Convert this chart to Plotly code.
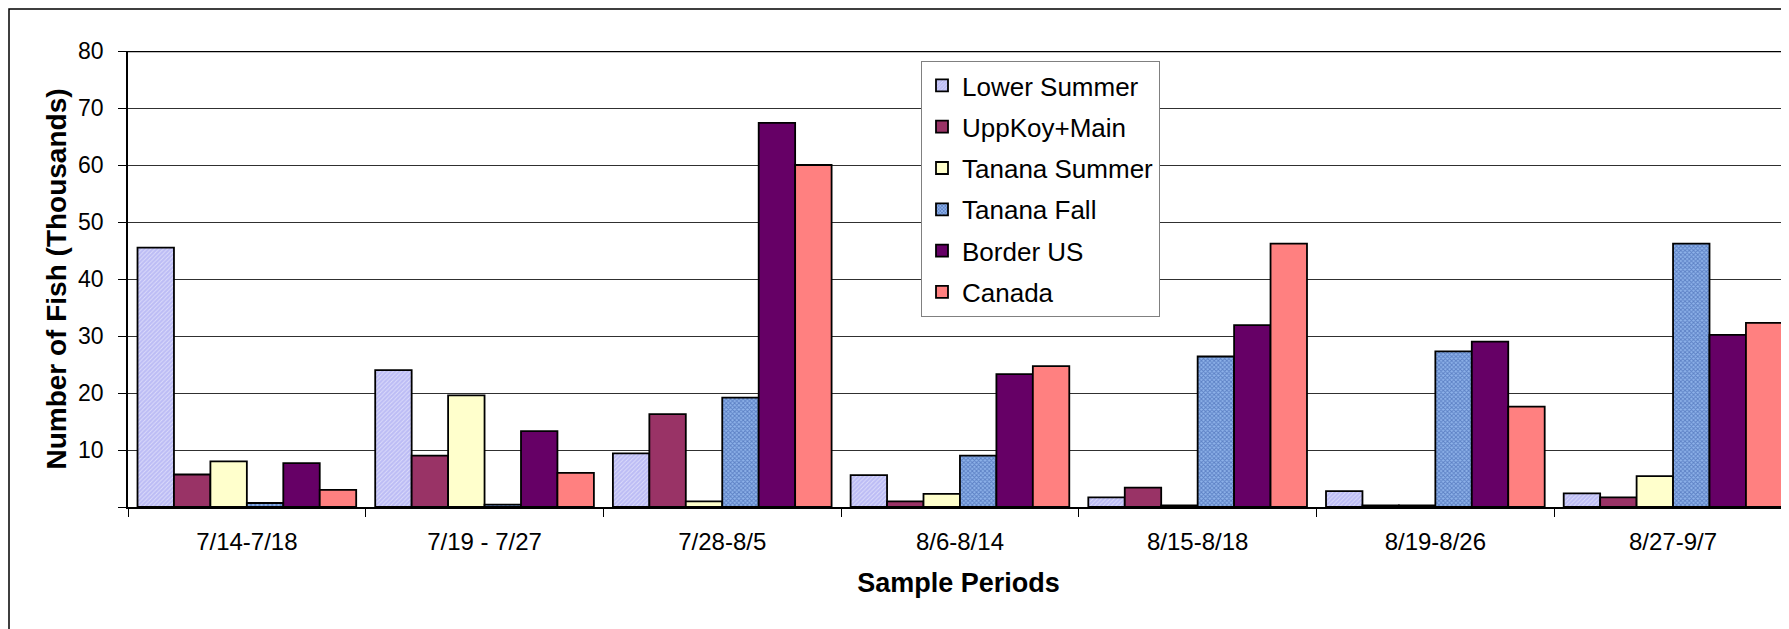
import plotly.graph_objects as go

periods = ["7/14-7/18", "7/19 - 7/27", "7/28-8/5", "8/6-8/14", "8/15-8/18", "8/19-8/26", "8/27-9/7"]
lower_summer = [45.5, 24.0, 9.4, 5.6, 1.7, 2.8, 2.4]
uppkoy_main = [5.7, 9.0, 16.3, 1.0, 3.4, 0.3, 1.7]
tanana_summer = [8.0, 19.6, 1.0, 2.3, 0.3, 0.3, 5.4]
tanana_fall = [0.7, 0.4, 19.2, 9.0, 26.4, 27.3, 46.2]
border_us = [7.7, 13.3, 67.4, 23.3, 31.9, 29.0, 30.2]
canada = [3.0, 6.0, 60.0, 24.7, 46.2, 17.6, 32.3]

y_ticks = [0, 10, 20, 30, 40, 50, 60, 70, 80]
y_tick_text = ["", "10", "20", "30", "40", "50", "60", "70", "80"]

FONT = "Arial, Liberation Sans, sans-serif"
OFF = 8  # default page body margin
W, H = 1789 - OFF, 629 - OFF
ML, MR, MT = 128 - OFF, 0, 51 - OFF
MB = H - (507 - OFF)

series = [
    ("Lower Summer", lower_summer, "#BCBCF5", dict(shape="/", fgcolor="#FFFFFF", size=3, solidity=0.3)),
    ("UppKoy+Main", uppkoy_main, "#993366", None),
    ("Tanana Summer", tanana_summer, "#FFFFCC", None),
    ("Tanana Fall", tanana_fall, "#8FB3EA", dict(shape="x", fgcolor="#2A4FA0", size=3, solidity=0.55)),
    ("Border US", border_us, "#660066", None),
    ("Canada", canada, "#FF8080", None),
]

fig = go.Figure()
for i, (name, vals, col, pat) in enumerate(series):
    marker = dict(color=col, line=dict(color="#000000", width=1.8))
    if pat:
        marker["pattern"] = pat
    fig.add_trace(go.Bar(name=name, x=periods, y=vals, marker=marker, legendgroup=f"g{i}"))

plot_w = W - ML - MR
plot_h = H - MT - MB
cat_w = 237.7
x_max = -0.5 + plot_w / cat_w

fig.update_layout(
    width=W, height=H,
    margin=dict(l=ML, r=MR, t=MT, b=MB, pad=0),
    paper_bgcolor="white", plot_bgcolor="white",
    barmode="group", bargap=0.08, bargroupgap=0,
    font=dict(family=FONT, color="#000000"),
    showlegend=True,
    legend=dict(
        x=(921 - OFF - ML) / plot_w, y=1 - (61 - OFF - MT) / plot_h,
        xanchor="left", yanchor="top",
        bgcolor="white", bordercolor="#808080", borderwidth=1,
        font=dict(family=FONT, size=26, color="#000000"),
        tracegroupgap=4.5, traceorder="grouped",
    ),
    xaxis=dict(
        type="category", range=[-0.5, x_max],
        showline=True, linecolor="#000000", linewidth=1.5, mirror=False,
        ticks="outside", tickson="boundaries", ticklen=8, tickcolor="#000000", tickwidth=1,
        showgrid=False,
        tickfont=dict(family=FONT, size=24),
        ticklabelstandoff=12,
        title=dict(text="<b>Sample Periods</b>", font=dict(family=FONT, size=27), standoff=20),
    ),
    yaxis=dict(
        range=[0, 80], tickvals=y_ticks, ticktext=y_tick_text,
        showline=True, linecolor="#000000", linewidth=1.5,
        ticks="outside", ticklen=8, tickcolor="#000000", tickwidth=1,
        showgrid=True, gridcolor="#303030", gridwidth=1,
        tickfont=dict(family=FONT, size=23),
        ticklabelstandoff=10,
        zeroline=False,
        title=dict(text="<b>Number of Fish (Thousands)</b>", font=dict(family=FONT, size=28), standoff=3),
    ),
)

# top border of plot area at y=80
fig.add_shape(type="line", xref="paper", yref="y", x0=0, x1=1.01, y0=80, y1=80,
              line=dict(color="#000000", width=2.5))
# outer chart border
fig.add_shape(type="rect", xref="paper", yref="paper",
              x0=(9 - OFF - ML) / plot_w, x1=1.05,
              y0=-0.5, y1=1 + (MT - (9 - OFF)) / plot_h,
              line=dict(color="#000000", width=1.5), fillcolor="rgba(0,0,0,0)", layer="above")

fig.write_html("out.html")
